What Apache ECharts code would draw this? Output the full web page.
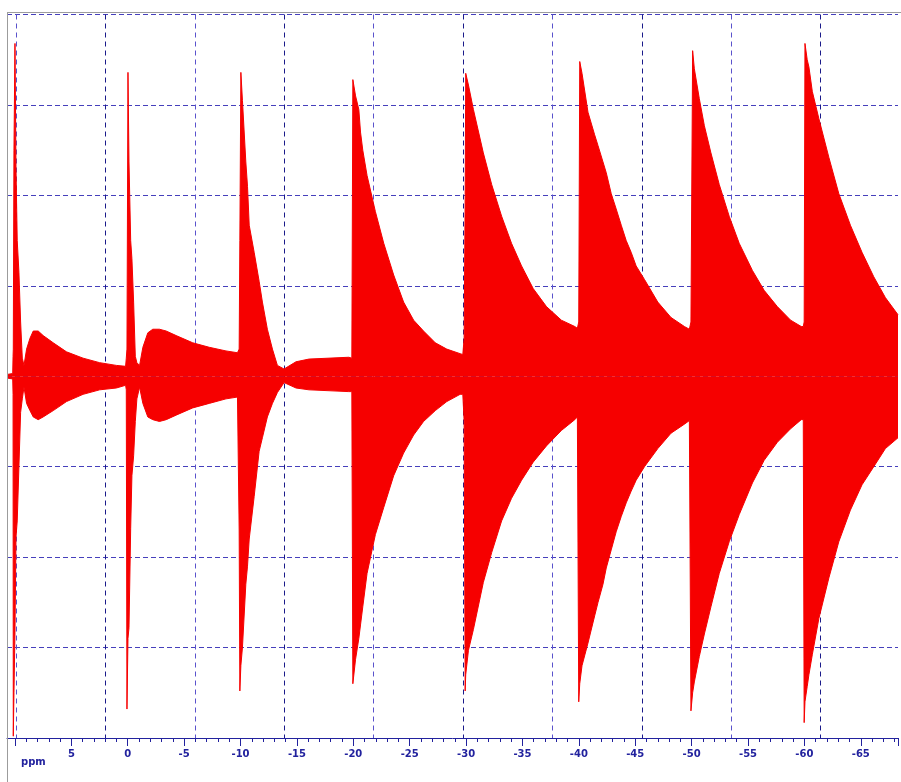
<!DOCTYPE html>
<html>
<head>
<meta charset="utf-8">
<script src="https://cdn.jsdelivr.net/npm/echarts@6.0.0/dist/echarts.min.js"></script>
<style>
  html, body { margin: 0; padding: 0; background: #ffffff; }
  #chart { width: 901px; height: 782px; }
</style>
</head>
<body>
<div id="chart"></div>
<script>
// Chemical shift positions (ppm) of the envelope samples (left to right)
const ppm = [
  10.7, 10.2, 10.17, 10.15, 10.09, 10.0, 9.91, 9.8, 9.65, 9.5, 9.35, 9.2, 8.97, 8.67, 8.38, 7.94, 7.5, 6.61, 5.43, 3.96, 2.49, 1.01, 0.19,
  0.13, 0.07, -0.02, -0.11, -0.26, -0.37, -0.52, -0.67, -0.81, -1.05, -1.34, -1.78, -2.22, -2.81, -3.41, -4.29, -5.76, -7.23, -8.71, -9.73,
  -9.88, -9.94, -10.03, -10.17, -10.47, -10.62, -10.77, -11.21, -11.65, -11.94, -12.38, -12.83, -13.27, -13.86, -14.92, -16.07, -19.6,
  -19.87, -19.96, -20.2, -20.49, -20.64, -20.84, -21.22, -21.96, -22.7, -23.58, -24.46, -25.35, -26.23, -27.27, -28.29, -29.47, -29.71,
  -29.83, -29.92, -29.97, -30.21, -30.65, -31.53, -32.27, -33.15, -34.03, -34.92, -35.95, -37.13, -38.45, -39.64, -39.87,
  -39.99, -40.08, -40.28, -40.81, -41.4, -41.7, -42.14, -42.43, -42.87, -43.31, -43.76, -44.2, -44.64, -45.08, -45.82, -47.0, -48.17, -49.36, -49.8,
  -49.94, -50.09, -50.24, -50.68, -51.13, -51.71, -52.45, -53.33, -54.22, -55.39, -56.43, -57.6, -58.78, -59.72, -59.9,
  -59.98, -60.05, -60.25, -60.4, -60.7, -61.28, -62.17, -63.05, -64.08, -65.11, -66.15, -67.18, -68.3
];
// Upper envelope of the signal at each ppm position
const upper = [
  0.02, 0.03, 0.22, 0.3, 2.5, 3.68, 2.3, 1.5, 1.15, 0.6, 0.2, 0.12, 0.3, 0.42, 0.5, 0.5, 0.45, 0.37, 0.27, 0.2, 0.15, 0.12, 0.11,
  0.2, 0.3, 3.36, 2.37, 1.5, 1.3, 0.82, 0.22, 0.15, 0.12, 0.32, 0.48, 0.52, 0.52, 0.5, 0.45, 0.37, 0.32, 0.28, 0.26,
  0.3, 1.5, 3.36, 3.05, 2.37, 2.1, 1.67, 1.37, 1.05, 0.82, 0.52, 0.3, 0.12, 0.08, 0.16, 0.19, 0.21,
  0.2, 3.28, 3.1, 2.95, 2.7, 2.5, 2.22, 1.82, 1.47, 1.12, 0.82, 0.62, 0.5, 0.37, 0.3, 0.25, 0.24,
  0.42, 2.0, 3.35, 3.22, 2.95, 2.47, 2.12, 1.77, 1.47, 1.22, 0.97, 0.77, 0.62, 0.55, 0.53,
  0.6, 3.48, 3.35, 2.92, 2.67, 2.55, 2.37, 2.25, 2.02, 1.85, 1.67, 1.5, 1.37, 1.22, 1.07, 0.82, 0.65, 0.55, 0.52,
  0.6, 3.6, 3.4, 3.07, 2.77, 2.47, 2.12, 1.77, 1.47, 1.17, 0.95, 0.77, 0.62, 0.55, 0.55,
  0.6, 3.68, 3.5, 3.42, 3.15, 2.85, 2.42, 2.02, 1.67, 1.37, 1.1, 0.87, 0.68
];
// Lower envelope of the signal at each ppm position
const lower = [
  -0.02, -0.03, -0.2, -3.98, -3.5, -2.83, -1.78, -1.6, -1.0, -0.4, -0.25, -0.12, -0.3, -0.38, -0.45, -0.48, -0.45, -0.38, -0.28, -0.2, -0.15, -0.13, -0.1,
  -0.15, -3.68, -2.9, -2.78, -1.68, -1.1, -0.88, -0.5, -0.25, -0.12, -0.3, -0.45, -0.48, -0.5, -0.48, -0.43, -0.35, -0.3, -0.25, -0.23,
  -1.7, -3.48, -3.2, -3.0, -2.3, -2.1, -1.8, -1.33, -0.83, -0.68, -0.45, -0.3, -0.18, -0.07, -0.13, -0.15, -0.17,
  -0.17, -3.4, -3.13, -2.9, -2.75, -2.55, -2.18, -1.75, -1.45, -1.1, -0.85, -0.65, -0.5, -0.38, -0.28, -0.2, -0.2,
  -0.5, -3.48, -3.3, -3.03, -2.8, -2.28, -1.95, -1.6, -1.35, -1.15, -0.95, -0.77, -0.6, -0.48, -0.45,
  -3.6, -3.4, -3.2, -2.95, -2.65, -2.5, -2.3, -2.12, -1.92, -1.72, -1.55, -1.4, -1.27, -1.15, -1.0, -0.8, -0.63, -0.53, -0.49,
  -3.7, -3.5, -3.38, -3.1, -2.85, -2.55, -2.18, -1.83, -1.53, -1.18, -0.93, -0.73, -0.58, -0.48, -0.48,
  -3.83, -3.6, -3.43, -3.3, -3.08, -2.68, -2.23, -1.83, -1.48, -1.2, -1.0, -0.8, -0.68
];
// Axis extent (ppm) and tick labels
const ppmLeft = 10.707, ppmRight = -68.3;
const tickLabels = [5, 0, -5, -10, -15, -20, -25, -30, -35, -40, -45, -50, -55, -60, -65];

const RED = '#f60000';
const NAVY = '#22229e';
const chart = echarts.init(document.getElementById('chart'), null, { renderer: 'canvas' });

const upperData = ppm.map((p, i) => [p, upper[i]]);
const lowerData = ppm.map((p, i) => [p, lower[i]]);

chart.setOption({
  animation: false,
  backgroundColor: '#ffffff',
  grid: [
    { left: 7, right: 0, top: 14.5, bottom: 44 },
    { left: 16, right: 0, top: 14.5, bottom: 44 }
  ],
  xAxis: [
    {
      type: 'value', gridIndex: 0, inverse: true,
      min: ppmRight, max: ppmLeft,
      splitNumber: 16, minInterval: 5, maxInterval: 5,
      axisLine: { show: true, onZero: false, lineStyle: { color: NAVY, width: 1 } },
      axisTick: { show: true, length: 8, lineStyle: { color: NAVY, width: 1 } },
      minorTick: { show: true, splitNumber: 5, length: 4, lineStyle: { color: NAVY, width: 1 } },
      axisLabel: {
        color: NAVY, fontSize: 10, fontWeight: 'bold', fontFamily: 'DejaVu Sans', margin: 11,
        formatter: function (v) {
          const r = Math.round(v);
          return (Math.abs(v - r) < 1e-6 && tickLabels.indexOf(r) >= 0) ? String(r) : '';
        }
      },
      splitLine: { show: false }
    },
    {
      type: 'value', gridIndex: 1, min: 0, max: 9.898, interval: 1,
      axisLine: { show: false }, axisTick: { show: false }, axisLabel: { show: false },
      splitLine: { show: true, showMaxLine: false, lineStyle: { color: ['#5a52cc', '#1a1a8a'], type: [5, 4], width: 1 } }
    }
  ],
  yAxis: [
    {
      type: 'value', gridIndex: 0, min: -4, max: 4, interval: 1,
      axisLine: { show: false }, axisTick: { show: false }, axisLabel: { show: false },
      splitLine: { show: true, lineStyle: { color: '#4640bc', type: [5, 3], width: 1 } }
    },
    {
      type: 'value', gridIndex: 1, min: 0, max: 1, show: false
    }
  ],
  series: [
    {
      name: 'upper', type: 'line', xAxisIndex: 0, yAxisIndex: 0,
      data: upperData, showSymbol: false, smooth: false,
      lineStyle: { color: RED, width: 1 },
      areaStyle: { color: RED, opacity: 1, origin: 'auto' },
      z: 3
    },
    {
      name: 'lower', type: 'line', xAxisIndex: 0, yAxisIndex: 0,
      data: lowerData, showSymbol: false, smooth: false,
      lineStyle: { color: RED, width: 1 },
      areaStyle: { color: RED, opacity: 1, origin: 'auto' },
      z: 3
    }
  ],
  graphic: [
    { type: 'line', shape: { x1: 7.5, y1: 12, x2: 7.5, y2: 782 }, style: { stroke: '#9c9c9c', lineWidth: 1 }, z: 10 },
    { type: 'line', shape: { x1: 7, y1: 12.5, x2: 901, y2: 12.5 }, style: { stroke: '#9c9c9c', lineWidth: 1 }, z: 10 },
    { type: 'text', left: 21, top: 757, style: { text: 'ppm', fill: NAVY, font: 'bold 10px "DejaVu Sans"' }, z: 10 }
  ]
});
</script>
</body>
</html>
